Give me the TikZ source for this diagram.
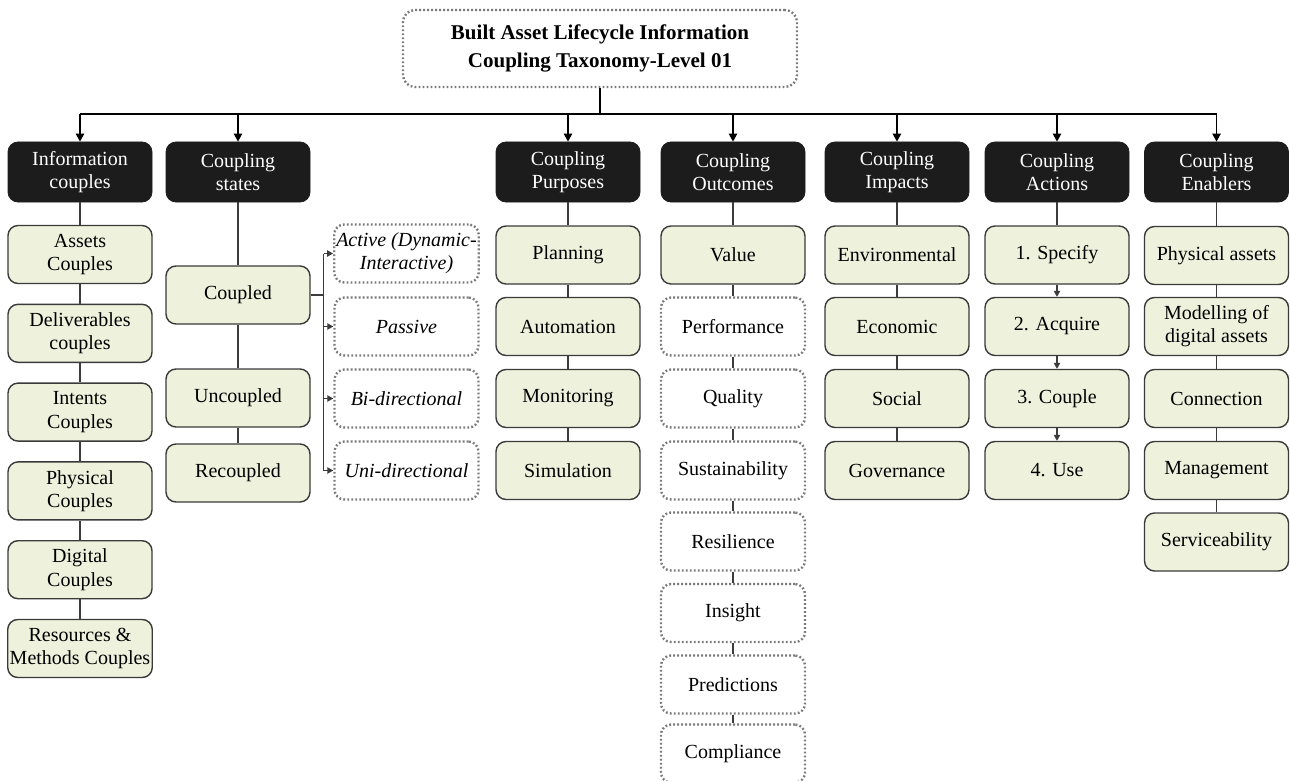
\documentclass[tikz,border=0pt]{standalone}
\usepackage{fontspec}
\setmainfont{Liberation Serif}
\usetikzlibrary{arrows.meta}

\definecolor{headfill}{RGB}{28,28,28}
\definecolor{itemfill}{RGB}{238,241,220}
\definecolor{itemedge}{RGB}{58,58,58}
\definecolor{dotgray}{RGB}{122,122,122}
\definecolor{linkgray}{RGB}{60,60,60}

\tikzset{
  rootbox/.style={draw=dotgray, line width=1.2pt, dash pattern=on 0.9pt off 1.1pt,
    rounded corners=6pt, minimum width=197pt, minimum height=38.5pt,
    align=center, font=\fontsize{10.5}{14}\selectfont\bfseries},
  headbox/.style={fill=headfill, draw=headfill, rounded corners=5pt,
    minimum width=72pt, minimum height=30pt, inner sep=1pt, align=center,
    text=white, font=\fontsize{10}{11.6}\selectfont},
  itembox/.style={fill=itemfill, draw=itemedge, line width=0.7pt, rounded corners=5pt,
    minimum width=72pt, minimum height=29pt, inner sep=1pt, align=center,
    font=\fontsize{10}{11.6}\selectfont},
  dotbox/.style={fill=white, draw=dotgray, line width=1.2pt, dash pattern=on 0.9pt off 1.1pt,
    rounded corners=5pt, minimum width=72pt, minimum height=29pt, inner sep=1pt,
    align=center, font=\fontsize{10}{11.6}\selectfont},
  modebox/.style={dotbox, font=\fontsize{10}{11.6}\selectfont\itshape},
  bus/.style={draw=black, line width=0.7pt},
  busarrow/.style={bus, -{Triangle[length=4pt,width=4.2pt]}},
  link/.style={draw=linkgray, line width=0.6pt},
  linkarrow/.style={link, -{Triangle[length=3pt,width=3.2pt]}},
}

\begin{document}
\begin{tikzpicture}[x=0.5pt,y=-0.5pt]
\useasboundingbox (0,0) rectangle (1290,781);

% root
\node[rootbox] (root) at (600,48.5) {Built Asset Lifecycle Information\\Coupling Taxonomy-Level 01};

% category headers
\node[headbox] (h1) at (80,172)   {Information\\couples};
\node[headbox] (h2) at (238,172)  {Coupling\\states};
\node[headbox] (h3) at (568,172)  {Coupling\\Purposes};
\node[headbox] (h4) at (733,172)  {Coupling\\Outcomes};
\node[headbox] (h5) at (897,172)  {Coupling\\Impacts};
\node[headbox] (h6) at (1057,172) {Coupling\\Actions};
\node[headbox] (h7) at (1216.5,172) {Coupling\\Enablers};

% bus from root to headers
\coordinate (busL) at (80,114);
\coordinate (busR) at (1216.5,114);
\draw[bus] (root.south) -- (root.south |- busL);
\draw[bus] (busL) -- (busR);
\foreach \h in {h1,h2,h3,h4,h5,h6,h7}
  \draw[busarrow] (\h.north |- busL) -- (\h.north);

% information couples
\node[itembox] (ic1) at (80,254.5) {Assets\\Couples};
\node[itembox] (ic2) at (80,333.3) {Deliverables\\couples};
\node[itembox] (ic3) at (80,412.1) {Intents\\Couples};
\node[itembox] (ic4) at (80,490.9) {Physical\\Couples};
\node[itembox] (ic5) at (80,569.7) {Digital\\Couples};
\node[itembox] (ic6) at (80,648.5) {Resources \&\\Methods Couples};
\draw[link] (h1) -- (ic1) -- (ic2) -- (ic3) -- (ic4) -- (ic5) -- (ic6);

% coupling states
\node[itembox] (cs1) at (238,295) {Coupled};
\node[itembox] (cs2) at (238,398) {Uncoupled};
\node[itembox] (cs3) at (238,473) {Recoupled};
\draw[link] (h2) -- (cs1) -- (cs2) -- (cs3);

\node[modebox] (md1) at (406.5,253.5) {Active (Dynamic-\\Interactive)};
\node[modebox] (md2) at (406.5,326.5) {Passive};
\node[modebox] (md3) at (406.5,398.5) {Bi-directional};
\node[modebox] (md4) at (406.5,470.5) {Uni-directional};
\draw[link] (cs1.east) -- ++(13,0) coordinate (br);
\draw[link] (br |- md1.west) -- (br |- md4.west);
\foreach \m in {md1,md2,md3,md4}
  \draw[linkarrow] (br |- \m.west) -- (\m.west);

% coupling purposes
\node[itembox] (cp1) at (568,255) {Planning};
\node[itembox] (cp2) at (568,326.5) {Automation};
\node[itembox] (cp3) at (568,398.5) {Monitoring};
\node[itembox] (cp4) at (568,470.5) {Simulation};
\draw[link] (h3) -- (cp1) -- (cp2) -- (cp3) -- (cp4);

% coupling outcomes
\node[itembox] (co1) at (733,255) {Value};
\node[dotbox] (co2) at (733,326.5) {Performance};
\node[dotbox] (co3) at (733,398.5) {Quality};
\node[dotbox] (co4) at (733,470.5) {Sustainability};
\node[dotbox] (co5) at (733,541.5) {Resilience};
\node[dotbox] (co6) at (733,613) {Insight};
\node[dotbox] (co7) at (733,684.5) {Predictions};
\node[dotbox] (co8) at (733,753.5) {Compliance};
\draw[link] (h4) -- (co1) -- (co2) -- (co3) -- (co4) -- (co5) -- (co6) -- (co7) -- (co8);

% coupling impacts
\node[itembox] (ci1) at (897,255) {Environmental};
\node[itembox] (ci2) at (897,326.5) {Economic};
\node[itembox] (ci3) at (897,398.5) {Social};
\node[itembox] (ci4) at (897,470.5) {Governance};
\draw[link] (h5) -- (ci1) -- (ci2) -- (ci3) -- (ci4);

% coupling actions
\node[itembox] (ca1) at (1057,255) {1. Specify};
\node[itembox] (ca2) at (1057,326.5) {2. Acquire};
\node[itembox] (ca3) at (1057,398.5) {3. Couple};
\node[itembox] (ca4) at (1057,470.5) {4. Use};
\draw[link] (h6) -- (ca1);
\draw[linkarrow] (ca1) -- (ca2);
\draw[linkarrow] (ca2) -- (ca3);
\draw[linkarrow] (ca3) -- (ca4);

% coupling enablers
\node[itembox] (ce1) at (1216.5,255.5) {Physical assets};
\node[itembox] (ce2) at (1216.5,326.5) {Modelling of\\digital assets};
\node[itembox] (ce3) at (1216.5,398.5) {Connection};
\node[itembox] (ce4) at (1216.5,470.5) {Management};
\node[itembox] (ce5) at (1216.5,542) {Serviceability};
\draw[link] (h7) -- (ce1) -- (ce2) -- (ce3) -- (ce4) -- (ce5);
\end{tikzpicture}
\end{document}
